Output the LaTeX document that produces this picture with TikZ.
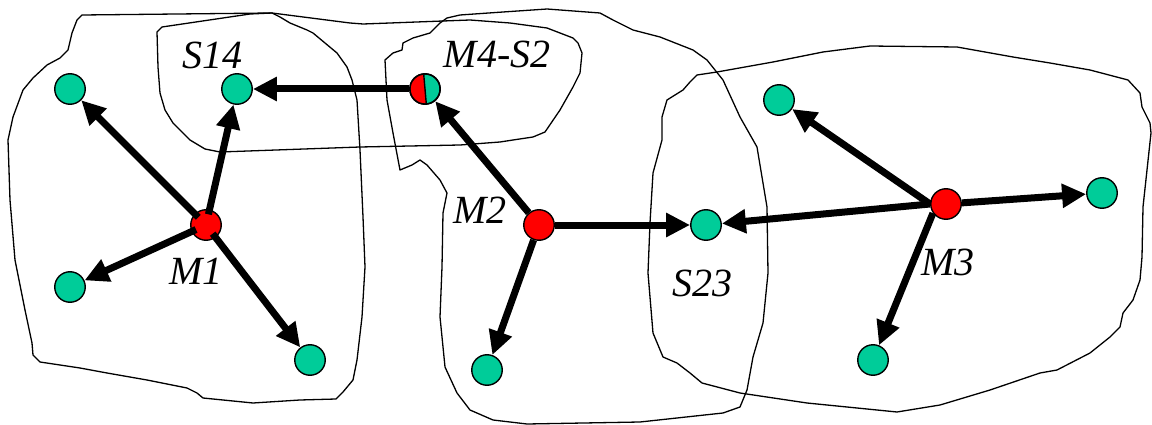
\documentclass[tikz,border=0pt]{standalone}
\usepackage{fontspec}
\setmainfont{Liberation Serif}
\usetikzlibrary{arrows.meta}
\definecolor{tealgreen}{RGB}{0,204,153}
\definecolor{nodered}{RGB}{255,0,0}
\begin{document}
\begin{tikzpicture}[x=1pt,y=-1pt,
  blob/.style={draw=black,line width=1.3pt,line join=round},
  gdot/.style={circle,draw=black,line width=1.4pt,fill=tealgreen,minimum size=30.5pt,inner sep=0pt},
  rdot/.style={circle,draw=black,line width=1.4pt,fill=nodered,minimum size=30.5pt,inner sep=0pt},
  arr/.style={line width=7pt,-{Triangle[length=24pt,width=23pt]}},
  lbl/.style={inner sep=0pt,font=\fontsize{40}{48}\selectfont\itshape}]
\useasboundingbox (0,0) rectangle (1152,425);
\fill[white] (0,0) rectangle (1152,425);

% blob A (left)
\draw[blob] (82,15) -- (272,13) -- (280,17) -- (290,23) -- (307,30) -- (313,33) -- (337,53) -- (347,67) -- (352,80) -- (357,100) -- (360,150) -- (363,217) -- (365,267) -- (362,317) -- (357,360) -- (353,380) -- (343,392) -- (336,399) -- (300,400) -- (253,403) -- (203,398) -- (197,393) -- (187,388) -- (147,380) -- (107,373) -- (80,368) -- (40,362) -- (33,355) -- (32,343) -- (25,310) -- (15,260) -- (10,200) -- (8,140) -- (13,117) -- (23,90) -- (33,78) -- (47,65) -- (60,58) -- (68,50) -- (72,33) -- (77,20) -- cycle;
% blob B (S14 / M4-S2)
\draw[blob] (162,27) -- (250,14) -- (272,13) -- (350,23) -- (363,24) -- (390,23) -- (443,21) -- (470,20) -- (510,23) -- (547,28) -- (573,38) -- (578,43) -- (582,53) -- (580,73) -- (573,87) -- (560,110) -- (545,132) -- (533,137) -- (513,140) -- (500,142) -- (460,145) -- (360,147) -- (220,152) -- (205,149) -- (190,140) -- (173,123) -- (165,110) -- (160,93) -- (158,67) -- (157,32) -- cycle;
% blob C (M2)
\draw[blob] (447,18) -- (460,15) -- (503,12) -- (547,9) -- (600,13) -- (613,20) -- (633,30) -- (660,37) -- (693,50) -- (707,60) -- (723,80) -- (740,117) -- (757,147) -- (767,207) -- (768,273) -- (763,323) -- (753,357) -- (747,390) -- (740,407) -- (723,413) -- (640,422) -- (527,424) -- (493,420) -- (470,410) -- (457,393) -- (445,367) -- (440,317) -- (442,267) -- (443,213) -- (447,193) -- (440,180) -- (427,165) -- (420,160) -- (412,165) -- (400,170) -- (393,133) -- (387,100) -- (385,60) -- (393,53) -- (402,50) -- (403,43) -- (413,38) -- (430,33) -- (440,23) -- cycle;
% blob D (S23 / M3)
\draw[blob] (697,75) -- (717,72) -- (773,62) -- (823,52) -- (870,46) -- (957,47) -- (1013,57) -- (1050,63) -- (1090,70) -- (1128,80) -- (1140,93) -- (1142,107) -- (1150,123) -- (1151,133) -- (1143,207) -- (1142,257) -- (1140,280) -- (1133,300) -- (1123,313) -- (1120,327) -- (1110,337) -- (1090,353) -- (1057,370) -- (1040,373) -- (990,390) -- (940,405) -- (897,412) -- (807,403) -- (740,393) -- (702,383) -- (690,373) -- (677,363) -- (663,357) -- (653,333) -- (648,273) -- (650,223) -- (653,173) -- (662,140) -- (662,117) -- (667,100) -- (683,90) -- (690,82) -- cycle;

% nodes
\node[gdot] (a1) at (70,89) {};
\node[gdot] (s14) at (237,89) {};
\node[rdot] (m1) at (206,225) {};
\node[gdot] (a2) at (70,287) {};
\node[gdot] (a3) at (310,360) {};
\node[gdot] (m4) at (425,89) {};
\fill[nodered] (m4.center) ++(95:15pt) arc[start angle=95,end angle=275,radius=15pt] -- cycle;
\draw[line width=1.4pt] (m4.center) ++(95:15pt) -- ++(275:30pt);
\draw[line width=1.4pt] (m4.center) circle[radius=15pt];
\node[rdot] (m2) at (539,225) {};
\node[gdot] (b1) at (487,370) {};
\node[gdot] (s23) at (706,225) {};
\node[rdot] (m3) at (946,204) {};
\node[gdot] (c1) at (779,100) {};
\node[gdot] (c2) at (1102,193) {};
\node[gdot] (c3) at (873,360) {};

% labels
\node[lbl] (ls14) at (212,55) {S14};
\node[lbl] (lm4) at (497,54) {M4-S2};
\node[lbl] (lm1) at (196,271) {M1};
\node[lbl] (lm2) at (480,210) {M2};
\node[lbl] (ls23) at (702,283) {S23};
\node[lbl] (lm3) at (948,262) {M3};

% arrows
\draw[arr,shorten <=-5pt] (m1) -- (a1);
\draw[arr,shorten <=-5pt] (m1) -- (s14);
\draw[arr,shorten <=-5pt] (m1) -- (a2);
\draw[arr,shorten <=-5pt] (m1) -- (a3);
\draw[arr] (m4) -- (s14);
\draw[arr] (m2) -- (m4);
\draw[arr] (m2) -- (s23);
\draw[arr] (m2) -- (b1);
\draw[arr] (m3.west) -- (c1);
\draw[arr] (m3.west) -- (s23);
\draw[arr] (m3) -- (c2);
\draw[arr] (m3.215) -- (c3);
\end{tikzpicture}
\end{document}
